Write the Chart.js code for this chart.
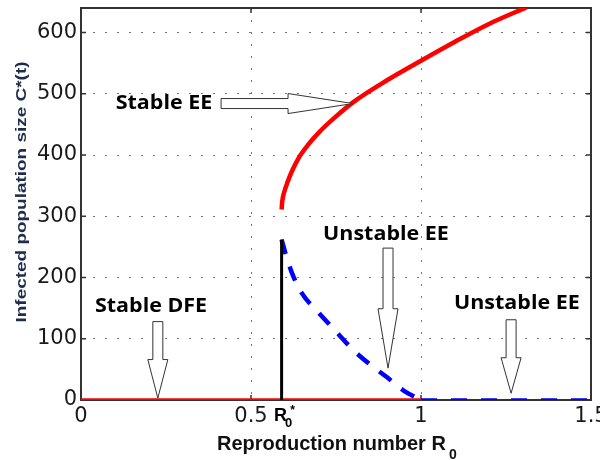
<!DOCTYPE html>
<html>
<head>
<meta charset="utf-8">
<script src="https://cdn.jsdelivr.net/npm/chart.js@4.4.1/dist/chart.umd.min.js"></script>
<style>
  html, body { margin: 0; padding: 0; background: #fff; }
</style>
</head>
<body>
<canvas id="bifurcation" width="600" height="460"></canvas>
<script>
// tick values
const xTicks = [0, 0.5, 1, 1.5];
const yTicks = [0, 100, 200, 300, 400, 500, 600];

// threshold R0*
const rStar = 0.59;
const thresholdX = [0.59, 0.59];
const thresholdY = [0, 262];

// disease free equilibrium (stable up to R0 = 1, unstable after)
const dfeX = [0, 1];
const dfeY = [0, 0];
const dfeUnstableX = [1, 1.5];
const dfeUnstableY = [0, 0];

// upper branch, stable endemic equilibrium
const stableEEX = [0.59, 0.592, 0.598, 0.607, 0.62, 0.64, 0.67, 0.70, 0.75, 0.80, 0.90, 1.00, 1.10, 1.20, 1.31];
const stableEEY = [311, 325, 340, 355, 373, 395, 418, 437, 463, 486, 522, 554, 585, 614, 641];

// lower branch, unstable endemic equilibrium
const unstableEEX = [0.59, 0.60, 0.62, 0.65, 0.70, 0.75, 0.80, 0.85, 0.90, 0.95, 1.00];
const unstableEEY = [262, 242, 208, 174, 142, 112, 82, 58, 37, 15, 0];

// annotation texts and block arrows (data coordinates)
const labels = [
    {text: "Stable EE", x: 0.244, y: 484},
    {text: "Stable DFE", x: 0.206, y: 152},
    {text: "Unstable EE", x: 0.897, y: 270},
    {text: "Unstable EE", x: 1.282, y: 157}
];
const arrows = [
    {from: [0.412, 484], base: [0.609, 484], to: [0.80, 484]},
    {from: [0.226, 128], base: [0.226, 66], to: [0.226, 3]},
    {from: [0.903, 248], base: [0.903, 149], to: [0.903, 52]},
    {from: [1.265, 131], base: [1.265, 69], to: [1.265, 11]}
];

const toXY = (xs, ys) => xs.map((x, i) => ({x: x, y: ys[i]}));

function drawArrow(ctx, a, sx, sy) {
    const x0 = sx.getPixelForValue(a.from[0]), y0 = sy.getPixelForValue(a.from[1]);
    const xb = sx.getPixelForValue(a.base[0]), yb = sy.getPixelForValue(a.base[1]);
    const x1 = sx.getPixelForValue(a.to[0]), y1 = sy.getPixelForValue(a.to[1]);
    const len = Math.hypot(x1 - x0, y1 - y0);
    const ux = (x1 - x0) / len, uy = (y1 - y0) / len;
    const nx = -uy, ny = ux;
    const bw = 5, hw = 10;
    ctx.beginPath();
    ctx.moveTo(x0 + nx * bw, y0 + ny * bw);
    ctx.lineTo(xb + nx * bw, yb + ny * bw);
    ctx.lineTo(xb + nx * hw, yb + ny * hw);
    ctx.lineTo(x1, y1);
    ctx.lineTo(xb - nx * hw, yb - ny * hw);
    ctx.lineTo(xb - nx * bw, yb - ny * bw);
    ctx.lineTo(x0 - nx * bw, y0 - ny * bw);
    ctx.closePath();
    ctx.fillStyle = "#fff";
    ctx.fill();
    ctx.lineWidth = 1;
    ctx.strokeStyle = "#333";
    ctx.stroke();
}

function stretchText(ctx, txt, x, y, sx) {
    ctx.save();
    ctx.translate(x, y);
    ctx.scale(sx, 1);
    ctx.fillText(txt, 0, 0);
    ctx.restore();
}

const framePlugin = {
    id: "frame",
    beforeDatasetsDraw(chart) {
        const {ctx, chartArea: a, scales} = chart;
        ctx.save();
        ctx.strokeStyle = "#333";
        ctx.lineWidth = 2;
        ctx.strokeRect(a.left, a.top, a.right - a.left, a.bottom - a.top);
        ctx.lineWidth = 1.5;
        ctx.beginPath();
        yTicks.forEach(v => {
            const y = scales.y.getPixelForValue(v);
            ctx.moveTo(a.left, y); ctx.lineTo(a.left + 5, y);
            ctx.moveTo(a.right, y); ctx.lineTo(a.right - 5, y);
        });
        xTicks.forEach(v => {
            const x = scales.x.getPixelForValue(v);
            ctx.moveTo(x, a.bottom); ctx.lineTo(x, a.bottom - 5);
            ctx.moveTo(x, a.top); ctx.lineTo(x, a.top + 5);
        });
        ctx.stroke();
        ctx.restore();
    },
    afterDatasetsDraw(chart) {
        const {ctx, chartArea: a, scales} = chart;
        ctx.save();
        arrows.forEach(ar => drawArrow(ctx, ar, scales.x, scales.y));

        ctx.fillStyle = "#000";
        ctx.textAlign = "center";
        ctx.textBaseline = "middle";
        ctx.font = "bold 19px 'Open Sans'";
        labels.forEach(l => {
            stretchText(ctx, l.text, scales.x.getPixelForValue(l.x), scales.y.getPixelForValue(l.y), 1.13);
        });

        // R0* under the axis
        const rx = scales.x.getPixelForValue(rStar);
        ctx.textBaseline = "alphabetic";
        ctx.font = "bold 18px 'Liberation Sans'";
        ctx.fillText("R", rx - 1, a.bottom + 21);
        ctx.font = "bold 13px 'Liberation Sans'";
        ctx.fillText("0", rx + 7, a.bottom + 27);
        ctx.font = "bold 12px 'Liberation Sans'";
        ctx.fillText("*", rx + 11, a.bottom + 14);

        // x title
        ctx.textAlign = "left";
        ctx.font = "bold 20px 'Liberation Sans'";
        ctx.fillStyle = "#111";
        ctx.fillText("Reproduction number R", 217, 450);
        ctx.font = "bold 14px 'Liberation Sans'";
        ctx.fillText("0", 449, 459);

        // y title
        ctx.translate(26, 192);
        ctx.rotate(-Math.PI / 2);
        ctx.textAlign = "center";
        ctx.font = "bold 15px 'Liberation Sans'";
        ctx.fillStyle = "#1f2d4d";
        const title = "Infected population size C*(t)";
        const w = ctx.measureText(title).width;
        ctx.scale(261 / w, 1);
        ctx.fillText(title, 0, 0);
        ctx.restore();
    }
};

const tickFont = {family: "'DejaVu Sans'", size: 21};
const gridOpts = {color: "#777", lineWidth: 1, drawTicks: false};

new Chart(document.getElementById("bifurcation"), {
    type: "line",
    data: {
        datasets: [
            {data: toXY(thresholdX, thresholdY), borderColor: "#000", borderWidth: 3},
            {data: toXY(stableEEX, stableEEY), borderColor: "#ff0000", borderWidth: 4.5, cubicInterpolationMode: "monotone"},
            {data: toXY(unstableEEX, unstableEEY), borderColor: "#0000ff", borderWidth: 4.5, borderDash: [15, 13], cubicInterpolationMode: "monotone"},
            {data: toXY(dfeX, dfeY), borderColor: "#ff0000", borderWidth: 3.5},
            {data: toXY(dfeUnstableX, dfeUnstableY), borderColor: "#0000ff", borderWidth: 3.5, borderDash: [16, 14]}
        ]
    },
    options: {
        responsive: false,
        animation: false,
        devicePixelRatio: 1,
        layout: {padding: {top: 8, right: 9, left: 0, bottom: 0}},
        elements: {point: {radius: 0}, line: {borderCapStyle: "butt"}},
        plugins: {legend: {display: false}, tooltip: {enabled: false}},
        scales: {
            x: {
                type: "linear", min: 0, max: 1.5,
                afterBuildTicks: s => { s.ticks = xTicks.map(v => ({value: v})); },
                afterFit: s => { s.height = 60; s.paddingLeft = 0; s.paddingRight = 0; },
                ticks: {font: tickFont, color: "#1a1a1a", padding: 4, maxRotation: 0, callback: v => String(v)},
                grid: gridOpts,
                border: {display: false, dash: [2, 10]}
            },
            y: {
                type: "linear", min: 0, max: 640,
                afterBuildTicks: s => { s.ticks = yTicks.map(v => ({value: v})); },
                afterFit: s => { s.width = 81; s.paddingTop = 0; s.paddingBottom = 0; },
                ticks: {font: tickFont, color: "#1a1a1a", padding: 4, callback: v => String(v)},
                grid: gridOpts,
                border: {display: false, dash: [2, 10]}
            }
        }
    },
    plugins: [framePlugin]
});
</script>
</body>
</html>
